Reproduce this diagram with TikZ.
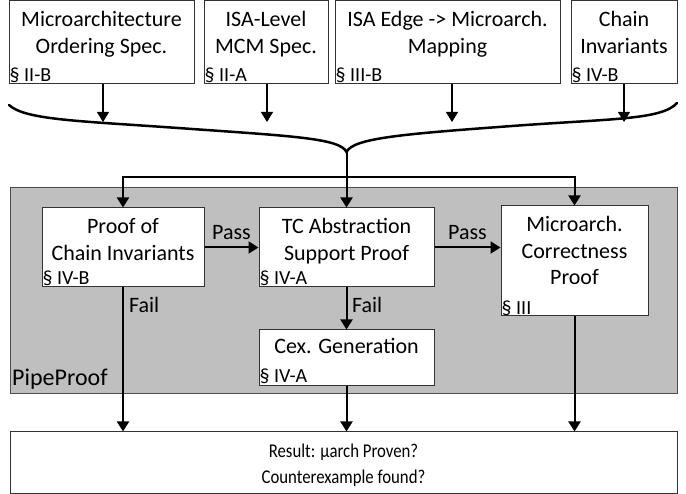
\documentclass[tikz,border=0pt]{standalone}
\usepackage{fontspec}
\setmainfont{Carlito}
\usetikzlibrary{arrows.meta,positioning}

\begin{document}
\begin{tikzpicture}[x=1pt,y=-1pt]
    \tikzset{box/.style = {draw=black!80, fill=white, line width=1pt, inner sep=0pt}}
    \tikzset{txt/.style = {align=center, anchor=north, inner sep=0pt, font=\fontsize{22}{26.5}\selectfont}}
    \tikzset{sec/.style = {anchor=base west, inner sep=0pt, font=\fontsize{20}{24}\selectfont}}
    \tikzset{lbl/.style = {inner sep=0pt, font=\fontsize{22}{26}\selectfont}}
    \tikzset{flow/.style = {draw, line width=2pt, ->}}
    \tikzset{feed/.style = {draw, line width=1.2pt, ->}}
    \tikzset{>={Triangle[length=10pt,width=12pt]}}

    \useasboundingbox (0,0) rectangle (686,494);

    % pipeproof stage
    \node[draw=black!70, fill=black!25, line width=0.8pt, minimum width=667pt, minimum height=206pt] (pipe) at (343.5,290) {};
    \node[lbl, anchor=base west, font=\fontsize{24}{28}\selectfont] (pipename) at (12,386) {PipeProof};

    % inputs
    \node[box, minimum width=185pt, minimum height=83pt] (mos) at (101.5,42.5) {};
    \node[txt, below=11pt of mos.north] (mostxt) {Microarchitecture\\Ordering Spec.};
    \node[sec] (mossec) at ([shift={(1,-3)}]mos.south west) {§ II-B};

    \node[box, minimum width=124pt, minimum height=83pt] (mcm) at (266,42.5) {};
    \node[txt, below=11pt of mcm.north] (mcmtxt) {ISA-Level\\MCM Spec.};
    \node[sec] (mcmsec) at ([shift={(1,-3)}]mcm.south west) {§ II-A};

    \node[box, minimum width=225pt, minimum height=83pt] (map) at (447.5,42.5) {};
    \node[txt, below=11pt of map.north] (maptxt) {ISA Edge -> Microarch.\\Mapping};
    \node[sec] (mapsec) at ([shift={(1,-3)}]map.south west) {§ III-B};

    \node[box, minimum width=106pt, minimum height=83pt] (inv) at (624,42.5) {};
    \node[txt, below=11pt of inv.north] (invtxt) {Chain\\Invariants};
    \node[sec] (invsec) at ([shift={(1,-3)}]inv.south west) {§ IV-B};

    % proof steps
    \node[box, minimum width=162pt, minimum height=79pt] (pci) at (123,247.5) {};
    \node[txt, below=11pt of pci.north] (pcitxt) {Proof of\\Chain Invariants};
    \node[sec] (pcisec) at ([shift={(1,-3)}]pci.south west) {§ IV-B};

    \node[box, minimum width=175pt, minimum height=79pt] (tcp) at (346.5,247.5) {};
    \node[txt, below=11pt of tcp.north] (tcptxt) {TC Abstraction\\Support Proof};
    \node[sec] (tcpsec) at ([shift={(1,-3)}]tcp.south west) {§ IV-A};

    \node[box, minimum width=147pt, minimum height=110pt] (mcp) at (574.5,261) {};
    \node[txt, below=11pt of mcp.north] (mcptxt) {Microarch.\\Correctness\\Proof};
    \node[sec] (mcpsec) at ([shift={(1,-2)}]mcp.south west) {§ III};

    \node[box, minimum width=175pt, minimum height=56pt] (cex) at (346.5,358) {};
    \node[txt, below=9pt of cex.north] (cextxt) {Cex. Generation};
    \node[sec] (cexsec) at ([shift={(1,-4)}]cex.south west) {§ IV-A};

    % result
    \node[box, minimum width=667pt, minimum height=61pt] (res) at (343.5,462.5) {};
    \node[txt, font=\fontsize{19.5}{26}\selectfont, xscale=0.86, transform shape, below=12pt of res.north] (restxt) {Result: µarch Proven?\\Counterexample found?};

    % edges
    \coordinate (a1) at (103,122);
    \coordinate (a2) at (267,122);
    \coordinate (a3) at (452,122);
    \coordinate (a4) at (624,122);
    \draw[feed] (a1 |- mos.south) -- (a1);
    \draw[feed] (a2 |- mcm.south) -- (a2);
    \draw[feed] (a3 |- map.south) -- (a3);
    \draw[feed] (a4 |- inv.south) -- (a4);

    \draw[line width=2.5pt, line cap=round] (9,105) .. controls (25,120) and (80,121) .. (178,128)
        .. controls (290,136) and (340,138) .. (346.5,152)
        .. controls (353,138) and (404,134) .. (512,126)
        .. controls (610,118.7) and (662,120) .. (677,103);
    \coordinate (tip) at (346.5,152);
    \coordinate (hub) at (346.5,177);
    \draw[flow] (tip) -- (tcp.north);
    \draw[flow] (hub) -| (pci.north);
    \draw[flow] (hub) -| (mcp.north);

    \draw[flow] (pci.east) -- node[lbl, above=7pt] (pass1) {Pass} (tcp.west);
    \draw[flow] (tcp.east) -- node[lbl, above=7pt] (pass2) {Pass} (tcp.east -| mcp.west);
    \draw[flow] (pci.south) -- node[lbl, pos=0.124, right=5pt] (fail1) {Fail} (pci.south |- res.north);
    \draw[flow] (tcp.south) -- node[lbl, pos=0.42, right=4.5pt] (fail2) {Fail} (cex.north);
    \draw[flow] (cex.south) -- (cex.south |- res.north);
    \draw[flow] (mcp.south) -- (mcp.south |- res.north);
\end{tikzpicture}
\end{document}
